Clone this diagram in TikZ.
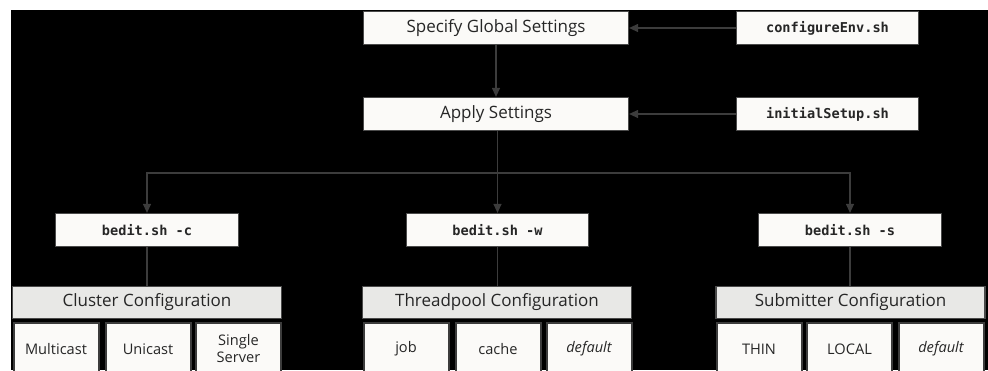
\documentclass[tikz,border=0pt]{standalone}
\usepackage{fontspec}
\setmainfont{Open Sans}
\newfontfamily\monof{DejaVu Sans Mono}
\usetikzlibrary{arrows.meta}
\definecolor{boxfill}{HTML}{FBFAF8}
\definecolor{hdrfill}{HTML}{E8E8E6}
\definecolor{edge}{HTML}{4A4A4A}
\definecolor{conn}{HTML}{3C3C3C}
\definecolor{txt}{HTML}{262626}
\tikzset{
  stepbox/.style={draw=edge, line width=1.2pt, fill=boxfill, inner sep=0pt,
    minimum height=33pt, text=txt, font=\fontsize{17}{20}\selectfont},
  cmdbox/.style={stepbox, font=\monof\bfseries\fontsize{13.6}{16}\selectfont},
  hdrbox/.style={draw=edge, line width=1.2pt, fill=hdrfill, inner sep=0pt,
    minimum width=269pt, minimum height=32pt, text=txt, font=\fontsize{17}{20}\selectfont},
  itembox/.style={draw=conn, line width=2pt, fill=boxfill, inner sep=0pt,
    minimum width=85pt, minimum height=52pt, text=txt, align=center,
    font=\fontsize{14.6}{17}\selectfont},
  arr/.style={draw=conn, line width=1.2pt, -{Triangle[width=8pt,length=9pt]}},
  plain/.style={draw=conn, line width=1.2pt}
}
\begin{document}
\begin{tikzpicture}[x=1pt,y=-1pt]
\useasboundingbox (0,0) rectangle (988,370);
\clip (0,0) rectangle (988,370);
\fill[white] (0,0) rectangle (988,370);
\fill[black] (11,10) rectangle (988,370);

\node[stepbox, minimum width=265pt] (spec) at (496,28) {Specify Global Settings};
\node[cmdbox, minimum width=182pt] (cenv) at (827.5,28) {configureEnv.sh};
\node[stepbox, minimum width=265pt] (apply) at (496,114) {Apply Settings};
\node[cmdbox, minimum width=182pt] (isetup) at (827.5,114) {initialSetup.sh};

\node[cmdbox, minimum width=183pt] (bc) at (147,230) {bedit.sh -c};
\node[cmdbox, minimum width=182pt] (bw) at (497.5,230) {bedit.sh -w};
\node[cmdbox, minimum width=183pt] (bs) at (850,230) {bedit.sh -s};

\node[hdrbox] (hc) at (147,302.5) {Cluster Configuration};
\node[hdrbox] (ht) at (497,302.5) {Threadpool Configuration};
\node[hdrbox] (hs) at (850.5,302.5) {Submitter Configuration};

\node[itembox] (i1) at (56,349) {Multicast};
\node[itembox] (i2) at (148,349) {Unicast};
\node[itembox] (i3) at (238.5,349) {Single\\Server};
\node[itembox] (i4) at (406,349) {job};
\node[itembox] (i5) at (498,349) {cache};
\node[itembox] (i6) at (589,349) {\itshape default};
\node[itembox] (i7) at (759,349) {THIN};
\node[itembox] (i8) at (849.5,349) {LOCAL};
\node[itembox] (i9) at (941,349) {\itshape default};

\draw[arr] (cenv) -- (spec);
\draw[arr] (isetup) -- (apply);
\draw[arr] (spec) -- (apply);
\coordinate (split) at (497.5,173);
\draw[plain] (apply.south -| split) -- (split);
\draw[arr] (split) -- (bw);
\draw[arr] (split) -| (bc);
\draw[arr] (split) -| (bs);
\draw[plain] (bc) -- (hc);
\draw[plain] (bw.south) -- (bw.south |- ht.north);
\draw[plain] (bs) -- (bs.south |- hs.north);
\end{tikzpicture}
\end{document}
